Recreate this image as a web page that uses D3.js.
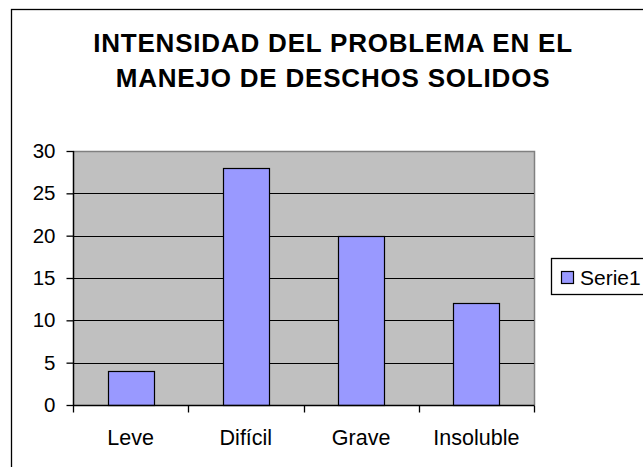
<!DOCTYPE html>
<html>
<head>
<meta charset="utf-8">
<script src="https://cdn.jsdelivr.net/npm/d3@7"></script>
<style>
  body { margin: 0; background: #fff; }
  svg { display: block; font-family: Arial, "Liberation Sans", sans-serif; }
</style>
</head>
<body>
<div id="chart"></div>
<script>
'use strict'
var width = 643;
var height = 467;

// data
var categories = ["Leve", "Difícil", "Grave", "Insoluble"];
var values = [4, 28, 20, 12];
var yTicks = [0, 5, 10, 15, 20, 25, 30];
var seriesName = "Serie1";
var titleLines = ["INTENSIDAD DEL PROBLEMA EN EL", "MANEJO DE DESCHOS SOLIDOS"];

var plot = { left: 73, top: 151, right: 534, bottom: 405 };

var svg = d3.select("#chart")
	.append("svg")
	.attr("width", width)
	.attr("height", height);

// chart area border (runs off the right and bottom)
svg.append("rect")
	.attr("x", 11.5)
	.attr("y", 9.5)
	.attr("width", 700)
	.attr("height", 500)
	.attr("fill", "#fff")
	.attr("stroke", "#000")
	.attr("stroke-width", 1.3);

// title
svg.append("g")
	.selectAll("text")
	.data(titleLines)
	.enter()
	.append("text")
		.attr("x", 333)
		.attr("y", function(d, i){ return 52 + i * 35; })
		.attr("text-anchor", "middle")
		.style("font-size", "26px")
		.style("letter-spacing", "0.8px")
		.style("font-weight", "bold")
		.text(function(d){ return d; });

var x = d3.scaleBand()
	.domain(categories)
	.range([plot.left, plot.right])
	.paddingInner(0.6)
	.paddingOuter(0.3);

var y = d3.scaleLinear()
	.domain([0, 30])
	.range([plot.bottom, plot.top]);

// plot background
svg.append("rect")
	.attr("x", plot.left)
	.attr("y", plot.top)
	.attr("width", plot.right - plot.left)
	.attr("height", plot.bottom - plot.top)
	.attr("fill", "#c0c0c0");

// top and right border of the plot area (gray)
svg.append("path")
	.attr("d", "M" + plot.left + "," + (plot.top + 0.5) + "H" + (plot.right + 0.5) + "V" + plot.bottom)
	.attr("fill", "none")
	.attr("stroke", "#808080")
	.attr("stroke-width", 1.5);

// gridlines
svg.append("g")
	.selectAll("line")
	.data(yTicks.filter(function(d){ return d > 0 && d < 30; }))
	.enter()
	.append("line")
		.attr("x1", plot.left)
		.attr("x2", plot.right)
		.attr("y1", function(d){ return Math.round(y(d)) + 0.5; })
		.attr("y2", function(d){ return Math.round(y(d)) + 0.5; })
		.attr("stroke", "#000")
		.attr("stroke-width", 1.2);

// bars
svg.append("g")
	.selectAll("rect")
	.data(values)
	.enter()
	.append("rect")
		.attr("x", function(d, i){ return Math.round(x(categories[i])) + 0.5; })
		.attr("y", function(d){ return Math.round(y(d)) + 0.5; })
		.attr("width", Math.round(x.bandwidth()))
		.attr("height", function(d){ return Math.round(y(0)) - Math.round(y(d)); })
		.attr("fill", "#9999ff")
		.attr("stroke", "#000")
		.attr("stroke-width", 1.2);

// y axis
var yAxis = svg.append("g")
	.attr("transform", "translate(" + (plot.left + 0.5) + ",0)")
	.call(d3.axisLeft(y).tickValues(yTicks).tickSize(7).tickPadding(11));

// x axis with ticks at category boundaries
var xAxis = svg.append("g")
	.attr("transform", "translate(0," + (plot.bottom + 0.5) + ")")
	.call(d3.axisBottom(x).tickSize(0).tickPadding(24.5));

xAxis.append("g")
	.selectAll("line")
	.data(d3.range(categories.length + 1))
	.enter()
	.append("line")
		.attr("x1", function(i){ return Math.round(plot.left + i * x.step()) + 0.5; })
		.attr("x2", function(i){ return Math.round(plot.left + i * x.step()) + 0.5; })
		.attr("y1", 0)
		.attr("y2", 7)
		.attr("stroke", "#000")
		.attr("stroke-width", 1.3);

svg.selectAll(".domain").attr("stroke", "#000").attr("stroke-width", 1.5);
svg.selectAll(".tick line").attr("stroke", "#000").attr("stroke-width", 1.3);
svg.selectAll(".tick text")
	.attr("fill", "#000")
	.style("font-family", "Arial, 'Liberation Sans', sans-serif");
yAxis.selectAll(".tick text").style("font-size", "20.5px");
xAxis.selectAll(".tick text").style("font-size", "21.5px");
xAxis.select(".domain").attr("d", "M" + plot.left + ",0H" + (plot.right + 0.5));
yAxis.select(".domain").attr("d", "M0," + plot.bottom + "V" + plot.top);

// legend
var legend = svg.append("g");
legend.append("rect")
	.attr("x", 551.5)
	.attr("y", 258.5)
	.attr("width", 120)
	.attr("height", 36)
	.attr("fill", "#fff")
	.attr("stroke", "#000")
	.attr("stroke-width", 1.3);
legend.append("rect")
	.attr("x", 561.5)
	.attr("y", 271.5)
	.attr("width", 12)
	.attr("height", 12)
	.attr("fill", "#9999ff")
	.attr("stroke", "#000")
	.attr("stroke-width", 1.2);
legend.append("text")
	.attr("x", 580)
	.attr("y", 285)
	.style("font-size", "21px")
	.text(seriesName);
</script>
</body>
</html>
